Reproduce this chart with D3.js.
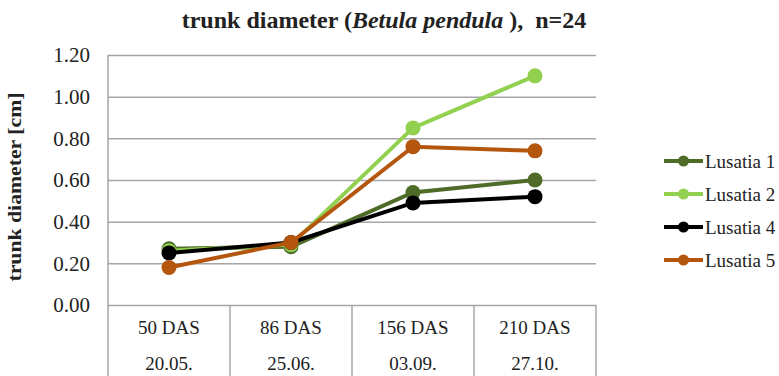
<!DOCTYPE html>
<html>
<head>
<meta charset="utf-8">
<script src="https://cdn.jsdelivr.net/npm/d3@7"></script>
<style>
  body { margin: 0; background: #fff; }
  svg text { font-family: "Times New Roman", "Liberation Serif", "DejaVu Serif", serif; fill: #222; }
</style>
</head>
<body>
<script>
// categories (two label rows)
const days = ["50 DAS", "86 DAS", "156 DAS", "210 DAS"];
const dates = ["20.05.", "25.06.", "03.09.", "27.10."];
const seriesNames = ["Lusatia 1", "Lusatia 2", "Lusatia 4", "Lusatia 5"];
const lusatia1 = [0.27, 0.28, 0.54, 0.60];
const lusatia2 = [0.26, 0.29, 0.85, 1.10];
const lusatia4 = [0.25, 0.30, 0.49, 0.52];
const lusatia5 = [0.18, 0.30, 0.76, 0.74];
const yTicks = [0, 0.2, 0.4, 0.6, 0.8, 1.0, 1.2];
const colors = ["#4f6b28", "#92d050", "#000000", "#b5560f"];

const width = 779, height = 376;
const margin = {top: 55, right: 183, bottom: 71, left: 108};
const serif = '"Times New Roman", "Liberation Serif", "DejaVu Serif", serif';

const svg = d3.select("body").append("svg")
    .attr("width", width)
    .attr("height", height)
    .attr("font-family", serif);

const xscale = d3.scaleBand()
    .domain(days)
    .range([margin.left, width - margin.right]);

const yscale = d3.scaleLinear()
    .domain([0, 1.2])
    .range([height - margin.bottom, margin.top]);

// gridlines
svg.append("g")
    .attr("class", "grid")
    .attr("transform", "translate(" + margin.left + ",0)")
    .call(d3.axisLeft(yscale).tickValues(yTicks).tickSize(-(width - margin.right - margin.left)).tickFormat(""))
    .call(g => g.select(".domain").remove())
    .call(g => g.selectAll("line").attr("stroke", "#a6a6a6").attr("stroke-width", 1.5));

// y tick labels
svg.append("g")
    .selectAll("text")
    .data(yTicks)
    .join("text")
    .attr("x", 90)
    .attr("y", d => yscale(d))
    .attr("dy", "0.35em")
    .attr("text-anchor", "end")
    .attr("font-family", serif)
    .attr("font-size", 21)
    .text(d => d.toFixed(2));

// left axis line + category table
const y0 = yscale(0);
svg.append("line")
    .attr("x1", margin.left).attr("x2", margin.left)
    .attr("y1", margin.top).attr("y2", height)
    .attr("stroke", "#a6a6a6").attr("stroke-width", 1.5);

const bounds = days.map(d => xscale(d) + xscale.bandwidth());
svg.append("g")
    .selectAll("line")
    .data(bounds)
    .join("line")
    .attr("x1", d => d).attr("x2", d => d)
    .attr("y1", y0).attr("y2", height)
    .attr("stroke", "#a6a6a6").attr("stroke-width", 1.5);

svg.append("g")
    .selectAll("text")
    .data(days)
    .join("text")
    .attr("x", d => xscale(d) + xscale.bandwidth() / 2)
    .attr("y", y0 + 29)
    .attr("text-anchor", "middle")
    .attr("font-family", serif)
    .attr("font-size", 19)
    .text(d => d);

svg.append("g")
    .selectAll("text")
    .data(dates)
    .join("text")
    .attr("x", (d, i) => xscale(days[i]) + xscale.bandwidth() / 2)
    .attr("y", y0 + 65)
    .attr("text-anchor", "middle")
    .attr("font-family", serif)
    .attr("font-size", 19)
    .text(d => d);

// series lines
const series = [lusatia1, lusatia2, lusatia4, lusatia5];
const line = d3.line()
    .x((d, i) => xscale(days[i]) + xscale.bandwidth() / 2)
    .y(d => yscale(d));

// draw in Excel order so Lusatia 5 ends on top
series.forEach((vals, k) => {
    const g = svg.append("g");
    g.append("path")
        .attr("d", line(vals))
        .attr("fill", "none")
        .attr("stroke", colors[k])
        .attr("stroke-width", 4);
    g.selectAll("circle")
        .data(vals)
        .join("circle")
        .attr("cx", (d, i) => xscale(days[i]) + xscale.bandwidth() / 2)
        .attr("cy", d => yscale(d))
        .attr("r", 7.5)
        .attr("fill", colors[k]);
});

// title
const title = svg.append("text")
    .attr("x", 384)
    .attr("y", 28)
    .attr("text-anchor", "middle")
    .attr("font-family", serif)
    .attr("font-size", 24)
    .attr("font-weight", "bold")
    .attr("xml:space", "preserve");
title.append("tspan").text("trunk diameter (");
title.append("tspan").attr("font-style", "italic").text("Betula pendula");
title.append("tspan").text(" ),  n=24");

// y axis title
svg.append("text")
    .attr("transform", "translate(21,187) rotate(-90)")
    .attr("text-anchor", "middle")
    .attr("font-family", serif)
    .attr("font-size", 19)
    .attr("font-weight", "bold")
    .attr("textLength", 189)
    .attr("lengthAdjust", "spacingAndGlyphs")
    .text("trunk diameter [cm]");

// legend
const legendY = [161, 194, 227, 260];
const legend = svg.append("g");
seriesNames.forEach((name, k) => {
    const y = legendY[k];
    legend.append("line")
        .attr("x1", 664).attr("x2", 703)
        .attr("y1", y).attr("y2", y)
        .attr("stroke", colors[k]).attr("stroke-width", 4);
    legend.append("circle")
        .attr("cx", 683.5).attr("cy", y).attr("r", 5.5)
        .attr("fill", colors[k]);
    legend.append("text")
        .attr("x", 705)
        .attr("y", y)
        .attr("dy", "0.35em")
        .attr("font-family", serif)
        .attr("font-size", 19)
        .text(name);
});
</script>
</body>
</html>
